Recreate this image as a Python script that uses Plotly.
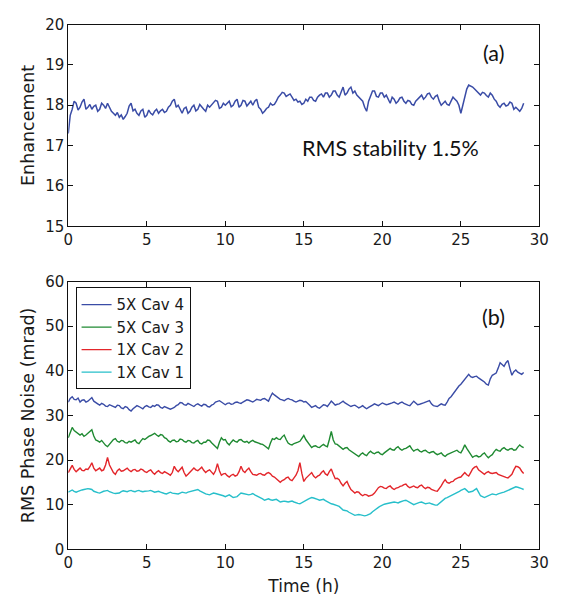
import numpy as np
import plotly.graph_objects as go

t_start, t_end = 0.0, 29.0

enhancement = [
    17.3, 17.75, 17.9, 18.1, 18.05, 17.88, 17.95, 18.08, 18.15, 17.9, 17.95, 18.02, 17.9, 17.97, 18.0, 17.85,
    17.9, 18.05, 18.0, 17.92, 18.05, 17.96, 17.85, 17.8, 17.75, 17.82, 17.7, 17.76, 17.65, 17.72, 17.8, 17.98,
    18.05, 17.86, 17.9, 17.8, 17.75, 17.86, 17.9, 17.7, 17.75, 17.88, 17.8, 17.76, 17.85, 17.9, 17.8, 17.86,
    17.9, 17.82, 17.85, 17.95, 18.0, 18.1, 18.15, 17.95, 18.0, 17.9, 17.8, 17.92, 17.95, 17.8, 17.85, 17.95,
    18.0, 17.86, 17.9, 18.02, 17.95, 17.9, 17.85, 18.0, 17.95, 18.0, 18.05, 18.12, 18.1, 17.92, 17.95, 18.05,
    18.0, 18.06, 18.1, 17.96, 18.0, 18.1, 18.15, 17.95, 18.0, 18.12, 18.1, 17.98, 18.05, 18.1, 18.0, 18.1,
    18.15, 17.95, 17.9, 17.8, 17.85, 17.92, 17.95, 18.05, 18.0, 18.02, 18.1, 18.2, 18.25, 18.32, 18.3, 18.22,
    18.25, 18.28, 18.2, 18.12, 18.15, 18.08, 18.1, 18.02, 18.05, 18.15, 18.1, 18.2, 18.2, 18.12, 18.1, 18.2,
    18.25, 18.28, 18.2, 18.3, 18.3, 18.2, 18.25, 18.35, 18.35, 18.25, 18.2, 18.35, 18.45, 18.25, 18.3, 18.4,
    18.45, 18.3, 18.35, 18.25, 18.2, 18.15, 18.1, 17.95, 17.85, 18.1, 18.25, 18.35, 18.35, 18.22, 18.2, 18.3,
    18.3, 18.2, 18.25, 18.15, 18.05, 18.2, 18.15, 18.05, 18.1, 18.18, 18.2, 18.1, 18.05, 18.12, 18.1, 18.02,
    18.0, 18.1, 18.15, 18.22, 18.25, 18.15, 18.2, 18.28, 18.3, 18.2, 18.15, 18.22, 18.25, 18.1, 18.0, 18.05,
    18.1, 18.02, 18.0, 18.1, 18.2, 18.15, 18.1, 18.0, 17.8, 18.0, 18.2, 18.4, 18.5, 18.48, 18.45, 18.4,
    18.35, 18.28, 18.25, 18.32, 18.3, 18.24, 18.2, 18.3, 18.25, 18.15, 18.1, 18.0, 17.95, 18.02, 18.05, 17.98,
    18.0, 18.08, 18.05, 17.9, 17.95, 17.9, 17.85, 17.92, 18.05]

cav4_5x = [
    33.0, 33.8, 34.2, 33.6, 33.5, 33.9, 33.0, 33.4, 33.5, 33.0, 33.2, 33.6, 34.0, 33.2, 32.8, 32.6,
    32.3, 32.7, 32.5, 32.1, 32.0, 32.4, 32.2, 31.9, 31.8, 32.3, 32.2, 31.7, 31.5, 32.0, 31.8, 31.3,
    31.0, 31.5, 31.8, 32.2, 32.0, 31.7, 31.5, 32.0, 32.2, 31.9, 31.8, 32.2, 32.0, 32.4, 32.3, 31.8,
    31.6, 32.0, 31.8, 31.5, 31.4, 31.6, 31.8, 32.2, 32.4, 32.9, 32.8, 32.4, 32.3, 32.7, 32.5, 32.2,
    32.0, 32.4, 32.6, 32.3, 32.1, 32.5, 32.4, 32.0, 31.9, 32.3, 32.5, 33.0, 33.2, 33.3, 33.0, 32.6,
    32.4, 32.7, 32.8, 32.5, 32.6, 32.9, 33.0, 32.8, 32.7, 33.0, 33.2, 33.5, 33.4, 33.1, 33.0, 33.3,
    33.6, 33.5, 33.4, 33.7, 33.8, 33.5, 33.2, 34.2, 35.0, 34.6, 34.2, 33.8, 33.6, 33.5, 33.3, 33.6,
    33.8, 33.6, 33.5, 33.2, 33.0, 33.2, 33.4, 33.3, 33.0, 33.1, 32.8, 32.3, 31.8, 32.0, 32.2, 31.8,
    31.6, 32.0, 32.4, 32.3, 32.0, 32.6, 33.2, 32.8, 32.3, 32.5, 32.6, 32.9, 33.2, 32.8, 32.5, 32.2,
    32.0, 32.2, 32.3, 32.0, 31.7, 31.9, 32.2, 31.8, 31.5, 31.8, 32.0, 32.3, 32.6, 32.4, 32.2, 32.5,
    32.8, 32.6, 32.4, 32.5, 32.6, 32.8, 33.0, 32.7, 32.5, 32.8, 33.0, 32.7, 32.4, 32.3, 32.2, 32.8,
    33.2, 32.8, 32.4, 32.5, 32.6, 32.8, 33.0, 33.2, 33.3, 32.6, 32.2, 32.1, 32.0, 32.3, 32.6, 32.4,
    32.3, 33.0, 33.8, 34.2, 34.8, 35.6, 36.2, 36.6, 37.0, 37.6, 38.0, 38.8, 39.2, 38.7, 38.5, 38.7,
    38.8, 38.4, 38.0, 37.8, 37.5, 37.0, 36.8, 38.2, 39.0, 39.2, 39.5, 40.6, 41.8, 41.4, 41.0, 41.8,
    42.3, 40.5, 39.0, 39.8, 40.2, 39.7, 39.4, 39.2, 39.6]

cav3_5x = [
    25.0, 26.2, 27.3, 26.6, 26.2, 25.8, 25.6, 25.9, 25.3, 25.6, 26.0, 26.4, 26.8, 25.4, 24.5, 24.3,
    24.0, 24.4, 23.8, 23.3, 23.0, 23.6, 24.2, 24.6, 24.8, 24.2, 24.0, 24.4, 24.3, 23.9, 23.8, 24.2,
    24.0, 24.3, 24.5, 23.9, 23.7, 24.3, 24.8, 24.6, 25.0, 25.3, 25.5, 25.8, 26.0, 25.6, 25.3, 25.7,
    25.6, 25.0, 24.8, 24.3, 24.0, 24.4, 24.5, 24.1, 24.2, 24.7, 24.6, 24.2, 24.0, 24.4, 24.3, 23.9,
    23.8, 24.2, 24.4, 23.8, 23.6, 24.0, 24.0, 24.5, 24.4, 23.9, 23.5, 23.0, 22.6, 24.0, 25.0, 24.5,
    24.6, 23.8, 23.4, 24.0, 24.5, 24.2, 24.0, 24.5, 24.6, 24.2, 24.0, 24.2, 23.8, 24.2, 24.4, 24.1,
    24.0, 23.8, 23.6, 23.5, 23.2, 22.8, 22.5, 23.8, 24.8, 24.6, 25.0, 24.7, 24.6, 25.2, 25.6, 24.6,
    23.8, 23.5, 23.4, 23.7, 23.8, 24.0, 24.2, 24.8, 25.5, 24.6, 24.0, 23.2, 22.8, 23.1, 23.2, 22.9,
    22.8, 23.2, 23.5, 23.2, 23.0, 24.6, 26.4, 24.5, 23.6, 23.5, 23.2, 22.7, 22.4, 22.7, 22.8, 22.3,
    22.0, 21.8, 21.5, 21.0, 20.8, 21.3, 21.6, 21.2, 21.0, 21.6, 22.0, 21.6, 21.4, 21.7, 21.8, 21.4,
    21.2, 21.6, 22.0, 22.3, 22.6, 22.3, 22.2, 22.7, 23.0, 22.5, 22.2, 22.5, 22.6, 22.9, 23.2, 22.5,
    22.0, 22.3, 22.4, 22.0, 21.8, 22.1, 22.2, 21.8, 21.6, 21.8, 21.9, 21.5, 21.2, 21.4, 21.6, 21.1,
    20.8, 21.2, 21.4, 21.7, 21.8, 22.1, 22.2, 21.8, 21.6, 22.4, 23.4, 22.6, 22.0, 21.2, 20.6, 20.9,
    21.0, 20.7, 20.8, 21.3, 21.6, 21.0, 20.5, 20.9, 21.2, 21.9, 22.4, 22.1, 22.0, 22.5, 22.8, 22.4,
    22.2, 22.5, 22.6, 22.2, 22.3, 22.9, 23.4, 23.0, 22.8]

cav2_1x = [
    17.2, 18.2, 18.8, 17.9, 17.4, 17.8, 18.2, 17.7, 17.6, 18.0, 17.9, 18.5, 19.4, 18.2, 17.6, 17.9,
    18.2, 17.6, 17.8, 18.9, 20.6, 18.9, 18.0, 17.2, 16.8, 17.6, 18.0, 17.5, 17.6, 18.0, 18.2, 17.7,
    17.4, 17.8, 17.9, 17.5, 17.6, 18.0, 17.8, 17.4, 17.2, 17.6, 17.8, 17.2, 16.8, 17.3, 17.6, 17.2,
    17.0, 17.4, 17.2, 16.9, 16.6, 17.2, 18.6, 17.8, 17.4, 17.9, 18.4, 17.2, 16.4, 16.8, 17.2, 17.8,
    18.2, 17.8, 17.6, 18.0, 18.4, 17.7, 17.2, 17.6, 17.8, 17.3, 16.8, 17.6, 19.2, 17.6, 16.6, 16.9,
    17.0, 16.5, 16.2, 16.6, 16.8, 16.4, 16.6, 17.4, 18.6, 17.6, 17.2, 17.8, 18.2, 17.4, 16.8, 16.7,
    16.6, 16.9, 17.0, 16.7, 16.6, 17.0, 17.2, 16.9, 16.4, 16.2, 15.8, 15.3, 15.0, 15.4, 15.6, 16.0,
    16.2, 15.6, 15.4, 16.0, 16.6, 17.6, 19.4, 17.0, 15.2, 15.9, 16.4, 16.9, 17.2, 16.4, 16.0, 16.4,
    16.6, 17.2, 17.6, 16.9, 16.6, 17.4, 18.0, 16.8, 15.8, 15.9, 15.6, 14.8, 14.2, 14.8, 15.2, 14.2,
    13.4, 13.0, 12.6, 12.9, 12.8, 12.3, 12.0, 12.3, 12.2, 11.9, 12.0, 12.2, 12.6, 13.3, 13.8, 14.1,
    14.0, 13.7, 13.6, 14.0, 14.2, 13.7, 13.4, 13.7, 13.8, 14.1, 14.2, 14.5, 14.6, 14.1, 13.8, 14.0,
    14.2, 13.9, 13.8, 14.2, 14.4, 13.9, 13.6, 13.9, 13.8, 13.4, 13.2, 13.1, 13.0, 13.5, 14.2, 15.0,
    15.6, 15.0, 14.8, 15.1, 15.2, 15.7, 16.0, 16.1, 16.2, 16.8, 17.2, 16.7, 16.4, 17.2, 18.0, 18.4,
    18.6, 17.8, 17.4, 17.0, 16.8, 17.2, 17.4, 17.1, 17.0, 17.1, 17.2, 16.8, 16.6, 16.4, 16.2, 16.1,
    16.0, 16.3, 16.8, 17.8, 18.6, 18.5, 18.2, 17.5, 17.0]

cav1_1x = [
    12.8, 13.1, 13.3, 13.0, 12.8, 13.0, 13.2, 13.3, 13.4, 13.5, 13.6, 13.5, 13.4, 13.0, 12.8, 12.7,
    12.6, 12.9, 13.0, 13.1, 13.2, 12.9, 12.7, 12.6, 12.5, 12.5, 12.6, 12.9, 13.1, 13.0, 12.9, 13.1,
    13.2, 13.0, 12.9, 13.1, 13.2, 13.0, 12.9, 13.0, 13.0, 13.1, 13.2, 13.0, 12.8, 12.9, 13.0, 12.8,
    12.6, 12.5, 12.4, 12.6, 12.8, 12.6, 12.5, 12.4, 12.4, 12.6, 12.8, 12.7, 12.6, 12.8, 12.9, 13.1,
    13.2, 13.3, 13.4, 13.1, 12.8, 12.6, 12.4, 12.3, 12.2, 12.4, 12.6, 12.5, 12.4, 12.3, 12.2, 12.0,
    11.8, 12.0, 12.2, 11.9, 11.6, 11.7, 11.8, 12.2, 12.6, 12.5, 12.4, 12.3, 12.2, 12.3, 12.5, 12.2,
    12.0, 11.8, 11.6, 11.3, 11.0, 11.2, 11.3, 11.1, 11.0, 11.1, 11.2, 10.9, 10.6, 10.7, 10.8, 10.7,
    10.6, 10.7, 10.8, 10.6, 10.4, 10.3, 10.2, 10.5, 10.8, 11.0, 11.2, 11.4, 11.6, 11.5, 11.4, 11.2,
    11.0, 11.1, 11.2, 10.9, 10.6, 10.4, 10.2, 10.1, 10.0, 9.8, 9.6, 9.2, 8.8, 8.7, 8.6, 8.3,
    8.0, 7.8, 7.6, 7.7, 7.8, 7.7, 7.6, 7.5, 7.6, 7.8, 8.0, 8.4, 8.8, 9.1, 9.4, 9.7,
    10.0, 10.1, 10.2, 10.3, 10.4, 10.5, 10.6, 10.5, 10.4, 10.6, 10.8, 10.9, 11.0, 10.7, 10.4, 10.2,
    10.0, 10.2, 10.4, 10.5, 10.6, 10.4, 10.2, 10.3, 10.4, 10.2, 10.0, 9.9, 9.9, 10.3, 10.8, 11.1,
    11.4, 11.6, 11.8, 12.0, 12.2, 12.4, 12.6, 12.9, 13.2, 13.4, 13.6, 13.2, 12.8, 12.9, 13.0, 13.3,
    13.6, 12.8, 12.0, 11.8, 11.6, 11.8, 12.0, 12.2, 12.4, 12.3, 12.2, 12.4, 12.6, 12.7, 12.8, 13.0,
    13.2, 13.4, 13.6, 13.8, 14.0, 13.9, 13.8, 13.6, 13.4]

series_b = [("5X Cav 4", cav4_5x, "#3a4ca6"),
            ("5X Cav 3", cav3_5x, "#1f8a32"),
            ("1X Cav 2", cav2_1x, "#e3262b"),
            ("1X Cav 1", cav1_1x, "#27bfca")]

W, H = 563, 600
xl, xr = 65 / W, 549 / W

fig = go.Figure()

t_a = np.linspace(t_start, t_end, len(enhancement))
fig.add_trace(go.Scatter(x=t_a, y=enhancement, mode="lines",
                         line=dict(color="#3a4ca6", width=1.5),
                         showlegend=False, xaxis="x", yaxis="y"))

for name, vals, col in series_b:
    t = np.linspace(t_start, t_end, len(vals))
    fig.add_trace(go.Scatter(x=t, y=vals, mode="lines", name=name,
                             line=dict(color=col, width=1.4),
                             xaxis="x2", yaxis="y2"))

FONT = "DejaVu Sans"
tickfont = dict(family=FONT, size=15, color="#1a1a1a")
titlefont = dict(family=FONT, size=17.5, color="#1a1a1a")
axis_common = dict(showline=True, linecolor="#111", linewidth=1, mirror="ticks",
                   ticks="inside", ticklen=5, tickcolor="#111", showgrid=False,
                   zeroline=False, tickfont=tickfont)

fig.update_layout(
    width=W, height=H, margin=dict(l=0, r=0, t=0, b=0),
    paper_bgcolor="white", plot_bgcolor="white",
    xaxis=dict(domain=[xl, xr], range=[0, 30], tick0=0, dtick=5, anchor="y",
               **axis_common),
    yaxis=dict(domain=[(H - 224) / H, (H - 16) / H], range=[15, 20], dtick=1,
               anchor="x", title=dict(text="Enhancement", standoff=6, font=titlefont),
               **axis_common),
    xaxis2=dict(domain=[xl, xr], range=[0, 30], tick0=0, dtick=5, anchor="y2",
                title=dict(text="Time (h)", standoff=8,
                           font=dict(family=FONT, size=17, color="#1a1a1a")),
                **axis_common),
    yaxis2=dict(domain=[(H - 557) / H, (H - 281) / H], range=[0, 60], dtick=10,
                anchor="x2",
                title=dict(text="RMS Phase Noise (mrad)", standoff=6, font=titlefont),
                **axis_common),
    legend=dict(x=72.5 / W, y=(H - 287) / H, xanchor="left", yanchor="top",
                bgcolor="white", bordercolor="#111", borderwidth=1,
                font=dict(family=FONT, size=15, color="#1a1a1a"),
                tracegroupgap=0, itemwidth=30),
    annotations=[
        dict(x=27.1, y=19.3, xref="x", yref="y", text="(a)", showarrow=False,
             font=dict(family="Lato", size=21.5, color="#111")),
        dict(x=20.5, y=16.95, xref="x", yref="y", text="RMS stability 1.5%",
             showarrow=False, font=dict(family="Lato", size=21.5, color="#111")),
        dict(x=27.1, y=52.0, xref="x2", yref="y2", text="(b)", showarrow=False,
             font=dict(family="Lato", size=21.5, color="#111")),
    ],
)

fig.write_html("out.html")
